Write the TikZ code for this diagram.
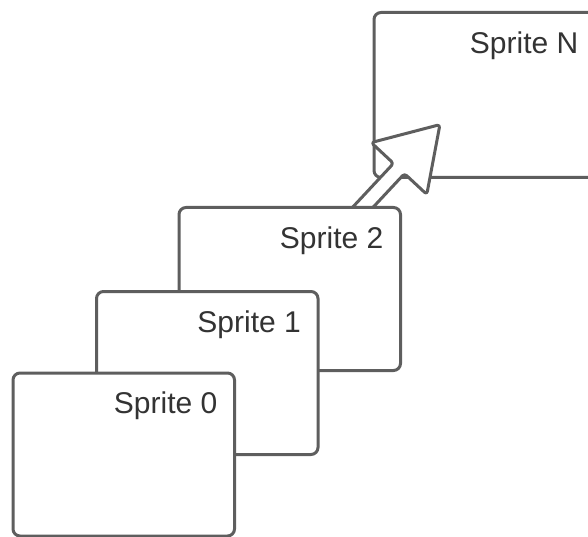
\documentclass[tikz,border=0pt]{standalone}
\usepackage{fontspec}
\setmainfont{Liberation Sans}
\definecolor{edgegray}{HTML}{5E5E5E}
\definecolor{inkgray}{HTML}{333333}

\begin{document}
\begin{tikzpicture}[x=1pt,y=-1pt,
  sprite/.style={draw=edgegray, fill=white, line width=3pt, rounded corners=7pt,
    minimum width=221.5pt, minimum height=163pt, inner sep=0pt, outer sep=0pt,
    anchor=north west},
  spritetext/.style={text=inkgray, font=\fontsize{30}{36}\selectfont,
    inner sep=0pt, anchor=base east},
  blockarrow/.style={draw=edgegray, fill=white, line width=3pt,
    rounded corners=3pt, line join=round}
]
\useasboundingbox (0,0) rectangle (588,537);

% last sprite, partly behind the arrow
\node[sprite, minimum height=165pt] (sN) at (374,12.5) {};
\node[spritetext] (tN) at ([shift={(-17,41)}]sN.north east) {Sprite N};

% block arrow pointing from the stack towards the last sprite
\coordinate (arrowbase) at (399,168.5);
\begin{scope}[shift={(arrowbase)}, rotate=47]
  \draw[blockarrow] (-80,7.5) -- (0,7.5) -- (0,38) -- (60,0) -- (0,-38)
    -- (0,-7.5) -- (-80,-7.5) -- cycle;
\end{scope}

% stacked sprites, back to front
\node[sprite] (s2) at (179,207.5) {};
\node[spritetext] (t2) at ([shift={(-17,40.5)}]s2.north east) {Sprite 2};

\node[sprite] (s1) at (96.5,291.5) {};
\node[spritetext] (t1) at ([shift={(-17,40.5)}]s1.north east) {Sprite 1};

\node[sprite] (s0) at (13,373) {};
\node[spritetext] (t0) at ([shift={(-17,40.5)}]s0.north east) {Sprite 0};
\end{tikzpicture}
\end{document}
